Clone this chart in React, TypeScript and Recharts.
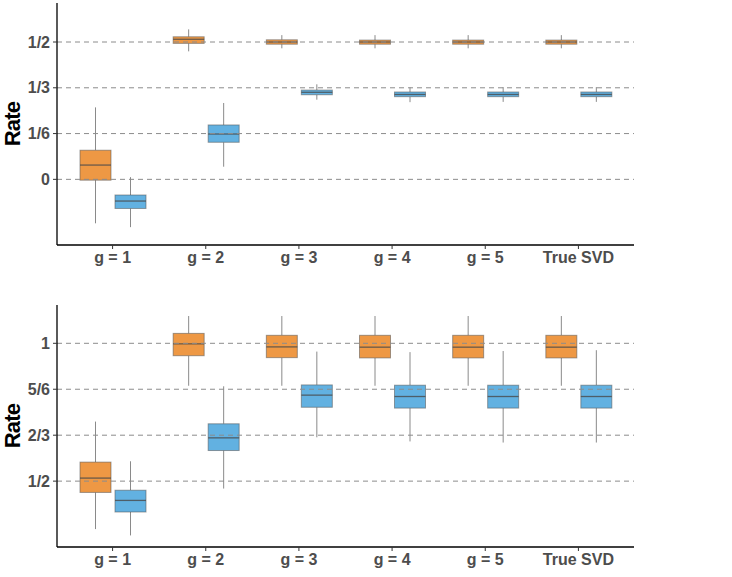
import {
  ComposedChart,
  Bar,
  XAxis,
  YAxis,
  ReferenceLine,
} from "recharts";

const categories = ["g = 1", "g = 2", "g = 3", "g = 4", "g = 5", "True SVD"];

// each entry: [min, q1, median, q3, max]
const topOrange = [
  [-0.16, -0.003, 0.052, 0.106, 0.262],
  [0.466, 0.495, 0.51, 0.519, 0.546],
  [0.477, 0.492, 0.5, 0.508, 0.525],
  [0.477, 0.492, 0.5, 0.507, 0.525],
  [0.477, 0.492, 0.5, 0.507, 0.525],
  [0.477, 0.492, 0.5, 0.507, 0.525],
];
const topBlue = [
  [-0.174, -0.106, -0.079, -0.057, 0.008],
  [0.046, 0.135, 0.165, 0.198, 0.278],
  [0.29, 0.308, 0.317, 0.325, 0.346],
  [0.281, 0.301, 0.309, 0.318, 0.335],
  [0.282, 0.301, 0.309, 0.318, 0.336],
  [0.282, 0.301, 0.309, 0.318, 0.336],
];
const bottomOrange = [
  [0.326, 0.459, 0.511, 0.569, 0.716],
  [0.846, 0.955, 0.998, 1.036, 1.099],
  [0.846, 0.948, 0.987, 1.029, 1.099],
  [0.846, 0.947, 0.986, 1.029, 1.099],
  [0.846, 0.947, 0.986, 1.029, 1.099],
  [0.846, 0.947, 0.986, 1.029, 1.099],
];
const bottomBlue = [
  [0.303, 0.388, 0.43, 0.467, 0.572],
  [0.473, 0.611, 0.657, 0.708, 0.844],
  [0.659, 0.768, 0.812, 0.849, 0.97],
  [0.644, 0.765, 0.807, 0.848, 0.968],
  [0.64, 0.765, 0.807, 0.848, 0.972],
  [0.64, 0.765, 0.807, 0.848, 0.975],
];

const topTicks = [0, 1 / 6, 1 / 3, 1 / 2];
const topTickLabels = ["0", "1/6", "1/3", "1/2"];
const bottomTicks = [1 / 2, 2 / 3, 5 / 6, 1];
const bottomTickLabels = ["1/2", "2/3", "5/6", "1"];

const ORANGE = "#EE9844";
const BLUE = "#62B1E1";
const FONT = "Liberation Sans, Arial, sans-serif";
const TICK_STYLE = { fill: "#4d4d4d", fontSize: 16, fontWeight: "bold", fontFamily: FONT };

function buildRows(orange: number[][], blue: number[][]) {
  return categories.map((cat, i) => ({
    cat,
    orange: [orange[i][0], orange[i][4]],
    blue: [blue[i][0], blue[i][4]],
    orangeStats: orange[i],
    blueStats: blue[i],
  }));
}

function BoxShape(props: any) {
  const { x, y, width, height, stats, fill } = props;
  if (!stats) return null;
  const [lo, q1, med, q3, hi] = stats;
  const top = Math.min(y, y + height);
  const bottom = Math.max(y, y + height);
  const span = hi - lo || 1;
  // map a value onto the bar's pixel span (bar runs from lo to hi)
  const px = (v: number) => top + ((hi - v) / span) * (bottom - top);
  const cx = x + width / 2;
  return (
    <g>
      <line x1={cx} x2={cx} y1={px(hi)} y2={px(q3)} stroke="#8a8a8a" strokeWidth={1} />
      <line x1={cx} x2={cx} y1={px(q1)} y2={px(lo)} stroke="#8a8a8a" strokeWidth={1} />
      <rect
        x={x}
        y={px(q3)}
        width={width}
        height={Math.max(px(q1) - px(q3), 1)}
        fill={fill}
        stroke="#555"
        strokeOpacity={0.55}
        strokeWidth={1}
      />
      <line x1={x} x2={x + width} y1={px(med)} y2={px(med)} stroke="#4a4a4a" strokeOpacity={0.8} strokeWidth={1.3} />
    </g>
  );
}

function RateLabel(props: any) {
  const { viewBox } = props;
  const cx = 12.5;
  const cy = viewBox.y + viewBox.height / 2;
  return (
    <text
      x={cx}
      y={cy}
      transform={`rotate(-90, ${cx}, ${cy})`}
      textAnchor="middle"
      dominantBaseline="central"
      fontSize={22}
      letterSpacing={-0.8}
      fontWeight="bold"
      fontFamily={FONT}
      fill="#000"
    >
      Rate
    </text>
  );
}

interface PanelProps {
  height: number;
  marginTop: number;
  marginBottom: number;
  domain: [number, number];
  ticks: number[];
  tickLabels: string[];
  orange: number[][];
  blue: number[][];
}

function Panel({ height, marginTop, marginBottom, domain, ticks, tickLabels, orange, blue }: PanelProps) {
  const rows = buildRows(orange, blue);
  return (
    <ComposedChart
      width={732}
      height={height}
      data={rows}
      margin={{ top: marginTop, right: 98, left: 0, bottom: marginBottom }}
      barSize={31}
      barGap={4}
    >
      <XAxis
        dataKey="cat"
        type="category"
        padding={{ left: 9, right: 9 }}
        height={30}
        tick={TICK_STYLE}
        tickSize={4}
        tickMargin={3}
        tickLine={{ stroke: "#333" }}
        axisLine={{ stroke: "#000", strokeWidth: 1.3 }}
        interval={0}
      />
      <YAxis
        type="number"
        domain={domain}
        allowDataOverflow
        ticks={ticks}
        tickFormatter={(v: number) => tickLabels[ticks.indexOf(v)] ?? ""}
        width={57}
        tick={TICK_STYLE}
        tickSize={4}
        tickMargin={3}
        tickLine={{ stroke: "#333" }}
        axisLine={{ stroke: "#000", strokeWidth: 1.3 }}
        label={<RateLabel />}
      />
      <Bar
        dataKey="orange"
        isAnimationActive={false}
        shape={(p: any) => <BoxShape {...p} stats={p.payload.orangeStats} fill={ORANGE} />}
      />
      <Bar
        dataKey="blue"
        isAnimationActive={false}
        shape={(p: any) => <BoxShape {...p} stats={p.payload.blueStats} fill={BLUE} />}
      />
      {ticks.map((t) => (
        <ReferenceLine key={t} y={t} stroke="#8c8c8c" strokeWidth={1} strokeDasharray="5 4" />
      ))}
    </ComposedChart>
  );
}

export default function App() {
  return (
    <div style={{ position: "absolute", left: 0, top: 0, width: 732, height: 577, background: "#fff" }}>
      <Panel
        height={290}
        marginTop={3}
        marginBottom={15}
        domain={[-0.239, 0.642]}
        ticks={topTicks}
        tickLabels={topTickLabels}
        orange={topOrange}
        blue={topBlue}
      />
      <Panel
        height={287}
        marginTop={15}
        marginBottom={0}
        domain={[0.261, 1.139]}
        ticks={bottomTicks}
        tickLabels={bottomTickLabels}
        orange={bottomOrange}
        blue={bottomBlue}
      />
    </div>
  );
}
